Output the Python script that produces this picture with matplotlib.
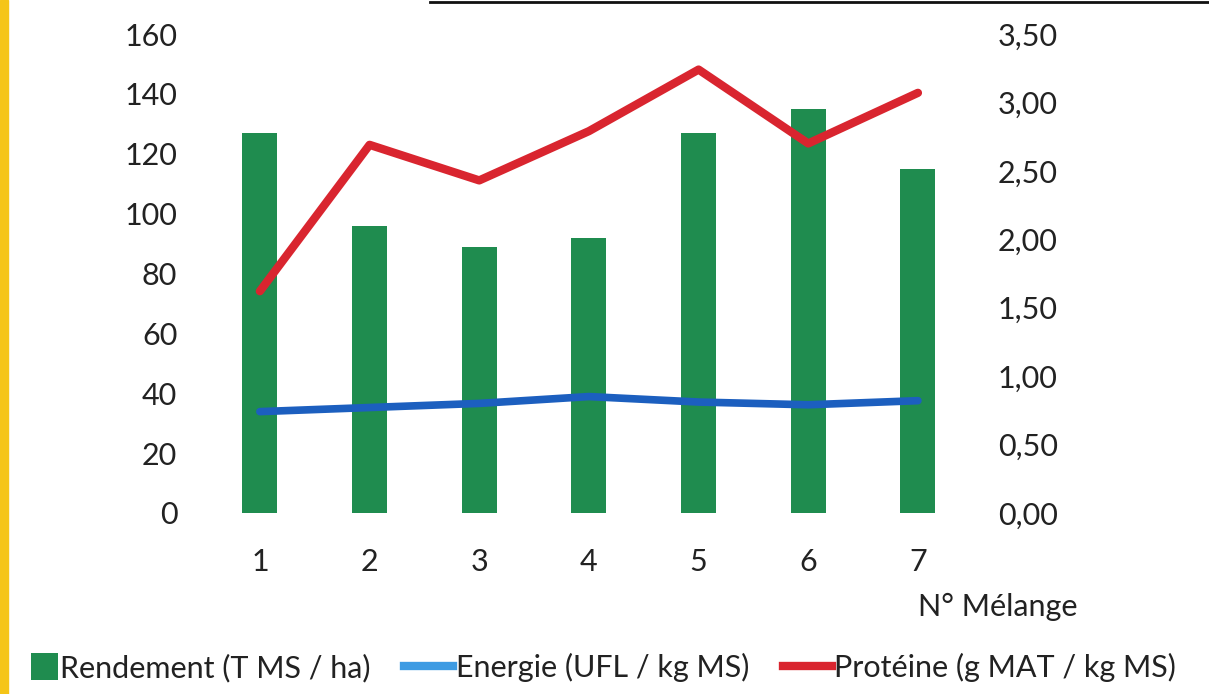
import matplotlib
matplotlib.use("Agg")
import matplotlib.pyplot as plt
from matplotlib.lines import Line2D
from matplotlib.patches import Patch, Rectangle
from matplotlib.legend_handler import HandlerPatch
from matplotlib.ticker import FuncFormatter

plt.rcParams['font.family'] = ['Lato', 'DejaVu Sans']

# data
melanges = [1, 2, 3, 4, 5, 6, 7]
rendement = [127, 96, 89, 92, 127, 135, 115]
energie = [0.74, 0.77, 0.80, 0.85, 0.81, 0.79, 0.82]
proteine = [1.62, 2.69, 2.43, 2.79, 3.24, 2.70, 3.07]

GREEN = "#1f8c4f"
BLUE = "#1c5fbf"
BLUE_LEG = "#3d9be3"
RED = "#d9252f"
FS = 22


def square_patch(legend, orig_handle, xdescent, ydescent, width, height, fontsize):
    """square legend key pushed against the label"""
    size = height * 1.25
    return Rectangle((width - size - xdescent, -ydescent - (size - height) / 2), size, size)


fig = plt.figure(figsize=(12.09, 6.94), dpi=100)
ax = fig.add_axes([0.1696, 0.261, 0.635, 0.690])
ax2 = ax.twinx()

ax.bar(melanges, rendement, width=0.32, color=GREEN, zorder=1)
ax2.plot(melanges, energie, color=BLUE, lw=5.5, solid_capstyle='round', zorder=3)
ax2.plot(melanges, proteine, color=RED, lw=6, solid_capstyle='round', zorder=3)

ax.set_xlim(0.5, 7.5)
ax.set_ylim(0, 160)
ax.set_yticks(range(0, 161, 20))
ax2.set_ylim(0, 3.5)
ax2.set_yticks([i * 0.5 for i in range(8)])
ax2.yaxis.set_major_formatter(FuncFormatter(lambda v, p: f"{v:.2f}".replace(".", ",")))
ax.set_xticks(melanges)

for a in (ax, ax2):
    for s in a.spines.values():
        s.set_visible(False)
    a.tick_params(length=0, labelsize=FS, colors="#222222")
ax.tick_params(axis='x', pad=25)
ax.tick_params(axis='y', pad=20)
ax2.tick_params(axis='y', pad=18)
ax.set_zorder(1)
ax2.set_zorder(2)
ax2.patch.set_visible(False)

fig.text(1078 / 1209, 1 - 607 / 694, "N° Mélange", ha='right', va='center',
         fontsize=FS, color="#222222")

handles = [Patch(facecolor=GREEN, edgecolor='none'),
           Line2D([], [], color=BLUE_LEG, lw=6),
           Line2D([], [], color=RED, lw=6)]
labels = ["Rendement (T MS / ha)", "Energie (UFL / kg MS)", "Protéine (g MAT / kg MS)"]
fig.legend(handles, labels, loc='center', bbox_to_anchor=(0.49, 0.038), ncol=3,
           frameon=False, fontsize=22, handlelength=1.6, handletextpad=0.08,
           columnspacing=1.1, labelcolor="#222222",
           handler_map={Patch: HandlerPatch(patch_func=square_patch)})

# yellow edge of the scanned page and the underline of the cut-off title
fig.patches.append(Rectangle((0, 0), 8 / 1209, 1, transform=fig.transFigure,
                             color="#f5c518", zorder=0))
fig.add_artist(Line2D([430 / 1209, 1], [0.997, 0.997], transform=fig.transFigure,
                      color="#111111", lw=2))

fig.savefig("out.png", dpi=100)
